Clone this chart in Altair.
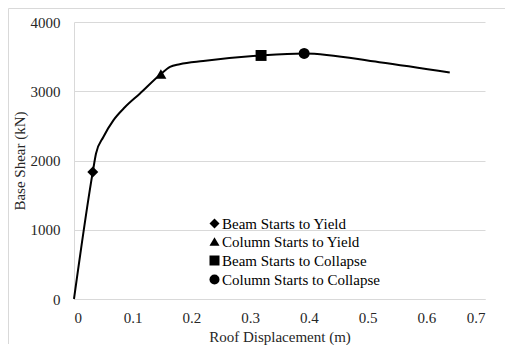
import altair as alt
import pandas as pd

# pushover curve
curve_x = [0.0, 0.032, 0.0375, 0.05, 0.067, 0.087, 0.112, 0.148, 0.1635, 0.18, 0.22, 0.3186, 0.392, 0.52, 0.64]
curve_y = [0, 1835, 2100, 2340, 2580, 2772, 2965, 3250, 3352, 3390, 3437, 3517, 3546, 3420, 3272]

# performance events
events = ["Beam Starts to Yield", "Column Starts to Yield", "Beam Starts to Collapse", "Column Starts to Collapse"]
event_x = [0.032, 0.148, 0.3186, 0.392]
event_y = [1835, 3250, 3517, 3546]
event_shapes = ["diamond", "triangle-up", "square", "circle"]

x_ticks = [0, 0.1, 0.2, 0.3, 0.4, 0.5, 0.6, 0.7]
y_ticks = [0, 500, 1000, 1500, 2000, 2500, 3000, 3500, 4000]

curve_df = pd.DataFrame({"x": curve_x, "y": curve_y})
event_df = pd.DataFrame({"x": event_x, "y": event_y, "event": events})

FONT = "'Times New Roman', 'Liberation Serif', serif"
FS = 15
TXT = "#262626"
W, H = 411, 277

xscale = alt.Scale(domain=[0, 0.7], nice=False)
yscale = alt.Scale(domain=[0, 4000], nice=False)

xaxis = alt.Axis(title="Roof Displacement (m)", values=x_ticks,
                 format="~g", grid=False, ticks=False, domain=True, domainColor="#d9d9d9",
                 labelPadding=11, titlePadding=4,
                 labelFont=FONT, labelFontSize=FS, labelColor=TXT,
                 titleFont=FONT, titleFontSize=FS, titleFontWeight="normal", titleColor=TXT)
yaxis = alt.Axis(title="Base Shear (kN)", values=y_ticks, format="d", grid=True,
                 gridColor="#d9d9d9", ticks=False, domain=True, domainColor="#d9d9d9",
                 labelPadding=14, titlePadding=3,
                 labelFont=FONT, labelFontSize=FS, labelColor=TXT,
                 titleFont=FONT, titleFontSize=FS, titleFontWeight="normal", titleColor=TXT)

# decorative frame around the figure: top and left edges only (right edge lies past the picture)
frame_df = pd.DataFrame({"a": [0]})
frame_top = alt.Chart(frame_df).mark_rule(color="#d9d9d9", strokeWidth=1, clip=False).encode(
    x=alt.value(-65.5), x2=alt.value(W + 20), y=alt.value(-13.5))
frame_left = alt.Chart(frame_df).mark_rule(color="#d9d9d9", strokeWidth=1, clip=False).encode(
    x=alt.value(-65.5), y=alt.value(-13.5), y2=alt.value(H + 45))

line = alt.Chart(curve_df).mark_line(color="black", strokeWidth=2, interpolate="monotone").encode(
    x=alt.X("x:Q", scale=xscale, axis=xaxis),
    y=alt.Y("y:Q", scale=yscale, axis=yaxis),
)

pts = alt.Chart(event_df).mark_point(filled=True, opacity=1, color="black", size=120).encode(
    x=alt.X("x:Q", scale=xscale),
    y=alt.Y("y:Q", scale=yscale),
    shape=alt.Shape("event:N", sort=events,
                    scale=alt.Scale(domain=events, range=event_shapes),
                    legend=alt.Legend(title=None, orient="none", legendX=133, legendY=194,
                                      symbolFillColor="black", symbolStrokeColor="black",
                                      symbolSize=100, rowPadding=2, labelOffset=0,
                                      labelFontSize=FS, labelFont=FONT, labelColor="black")),
)

chart = alt.layer(frame_top, frame_left, line, pts).properties(
    width=W, height=H,
    padding={"left": 66, "top": 14, "right": 21, "bottom": 46},
    autosize=alt.AutoSizeParams(type="none"),
).configure_view(stroke=None)

chart.save("out.html", embed_options={"renderer": "svg", "actions": False})
